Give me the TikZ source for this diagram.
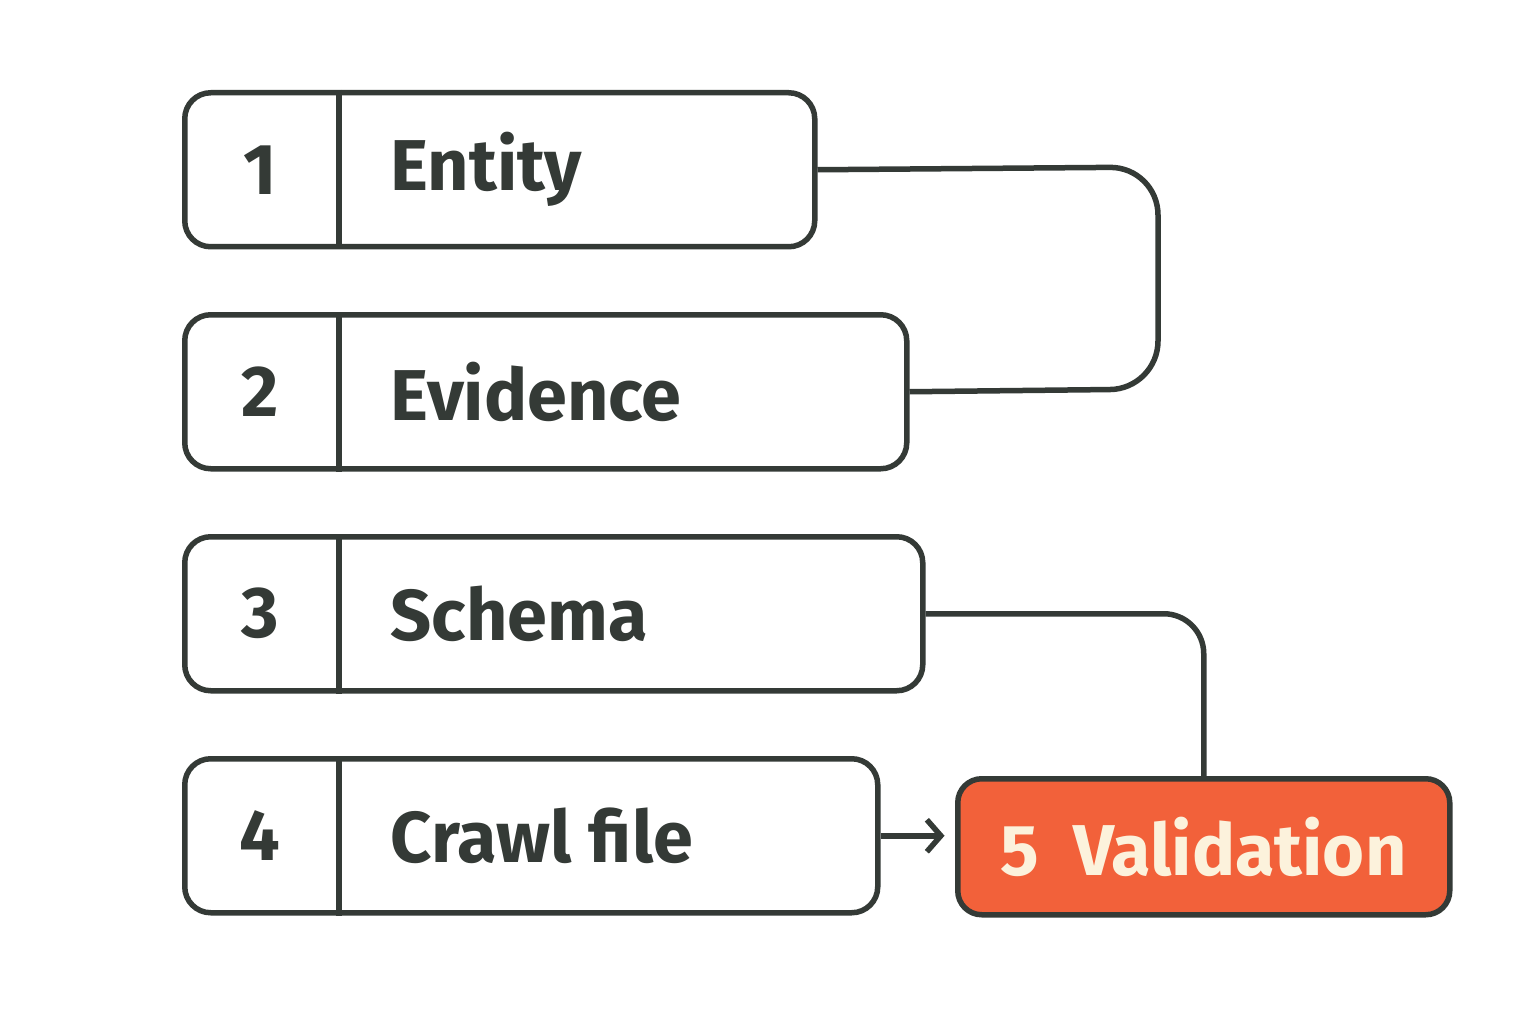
\documentclass[tikz,border=0pt]{standalone}
\usepackage{fontspec}
\setmainfont{Fira Sans}
\usetikzlibrary{arrows.meta,calc}
\definecolor{ink}{HTML}{343A36}
\definecolor{accent}{HTML}{F2613A}
\definecolor{cream}{HTML}{FCF2DC}
\begin{document}
\begin{tikzpicture}[x=1pt,y=-1pt,
  box/.style={draw=ink,line width=5.5pt,rounded corners=26pt,anchor=north west,minimum height=154pt,inner sep=0pt},
  num/.style={text=ink,font=\fontsize{72}{72}\selectfont\bfseries,anchor=center},
  lab/.style={text=ink,font=\fontsize{72}{72}\selectfont\bfseries,anchor=west},
  conn/.style={draw=ink,line width=5.5pt}]
\useasboundingbox[fill=white] (0,0) rectangle (1536,1024);
\foreach \i/\y/\w/\t in {1/90/630/Entity,2/312/722/Evidence,3/534/738/Schema,4/756/693/Crawl file}{
  \node[box,minimum width=\w pt] (b\i) at (182,\y) {};
  \draw[conn] ($(b\i.north west)+(157,0)$) -- ($(b\i.south west)+(157,0)$);
  \node[num] (n\i) at ($(b\i.west)+(78,0)$) {\i};
  \node[lab] (l\i) at ($(b\i.west)+(205,0)$) {\t};
}
\node[box,fill=accent,minimum width=492pt,minimum height=136pt,rounded corners=24pt] (b5) at (955,776) {};
\node[text=cream,font=\fontsize{72}{72}\selectfont\bfseries] (l5) at (b5.center) {5\ \ Validation};
\coordinate (c1) at (1158,167);
\coordinate (c2) at (1158,389);
\draw[conn,rounded corners=48pt] (b1.east) -- (c1) -- (c2) -- (b2.east);
\draw[conn,rounded corners=40pt] (b3.east) -| (b5.north);
\draw[conn,-{Straight Barb[length=14pt,width=32pt,line width=5.5pt]}] (b4.east) -- ++(64,0) coordinate (a4);
\end{tikzpicture}
\end{document}
